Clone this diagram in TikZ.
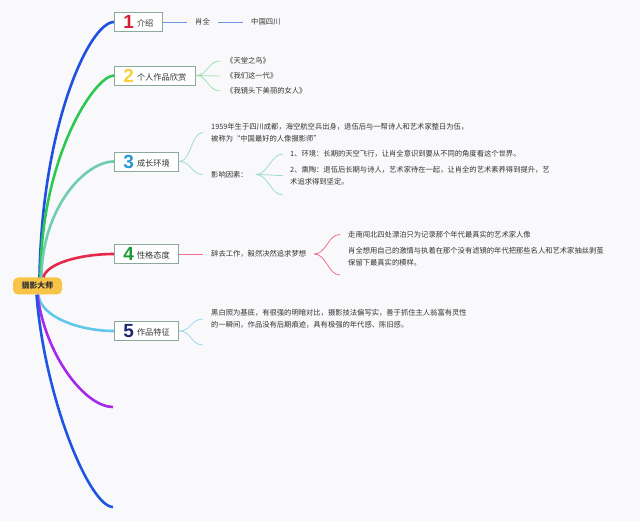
\documentclass[tikz,border=0pt]{standalone}
\usepackage{fontspec}
\setmainfont{Noto Sans CJK SC}
\newfontfamily\numfont{Liberation Sans}
\definecolor{bgc}{RGB}{249,249,251}
\definecolor{textc}{RGB}{51,51,51}
\definecolor{boxc}{RGB}{138,170,159}
\definecolor{rootc}{RGB}{248,196,72}
\definecolor{lineA}{RGB}{30,80,225}
\definecolor{lineB}{RGB}{45,200,80}
\definecolor{lineC}{RGB}{110,205,175}
\definecolor{lineD}{RGB}{230,40,75}
\definecolor{lineE}{RGB}{95,200,235}
\definecolor{lineF}{RGB}{165,40,235}
\definecolor{lineG}{RGB}{30,85,225}
\definecolor{subA}{RGB}{110,150,230}
\definecolor{subB}{RGB}{160,225,175}
\definecolor{subC}{RGB}{160,220,205}
\definecolor{subD}{RGB}{240,110,145}
\definecolor{subE}{RGB}{160,215,240}
\definecolor{numA}{RGB}{215,30,55}
\definecolor{numB}{RGB}{245,210,60}
\definecolor{numC}{RGB}{40,150,215}
\definecolor{numD}{RGB}{30,155,55}
\definecolor{numE}{RGB}{30,40,110}
\newcommand\topicnum[2]{{\numfont\bfseries\fontsize{19}{19}\selectfont\color{#1}#2}\hspace{3pt}}
\newcommand\topictxt[1]{\raisebox{2pt}{#1}}
\tikzset{
  rootbox/.style={fill=rootc, rounded corners=5pt, minimum width=49pt, minimum height=17pt, inner sep=0pt, text=textc, font=\bfseries\fontsize{7.8}{8}\selectfont},
  topicbox/.style={draw=boxc, line width=0.9pt, fill=white, inner xsep=9pt, inner ysep=2pt, minimum height=19pt, anchor=west, text=textc, font=\fontsize{8.2}{9}\selectfont},
  leaf/.style={anchor=west, align=left, inner xsep=8pt, inner ysep=1pt, text=textc, font=\fontsize{7.3}{11.5}\selectfont},
  mainline/.style={line width=2.6pt},
  subline/.style={line width=0.8pt}
}
\begin{document}
\begin{tikzpicture}[x=1pt,y=-1pt]
\fill[bgc] (0,0) rectangle (640,521);
\useasboundingbox (0,0) rectangle (640,521);

% root and topics
\node[rootbox] (root) at (37.5,286) {摄影大师};
\node[topicbox] (b1) at (114,22) {\topicnum{numA}{1}\topictxt{介绍}};
\node[topicbox] (b2) at (114,75.5) {\topicnum{numB}{2}\topictxt{个人作品欣赏}};
\node[topicbox] (b3) at (114,161.5) {\topicnum{numC}{3}\topictxt{成长环境}};
\node[topicbox] (b4) at (114,254) {\topicnum{numD}{4}\topictxt{性格态度}};
\node[topicbox] (b5) at (114,331) {\topicnum{numE}{5}\topictxt{作品特征}};
\coordinate (e6) at (113,407);
\coordinate (e7) at (113,507);

% main curves
\draw[mainline, lineA] ([xshift=2pt]root.north) .. controls (42,123) and (90,22) .. (b1.west);
\draw[mainline, lineB] ([xshift=3pt]root.north) .. controls (41,156) and (95,75.5) .. (b2.west);
\draw[mainline, lineC] ([xshift=4pt]root.north) .. controls (42,208) and (85,161.5) .. (b3.west);
\draw[mainline, lineD] ([xshift=6pt]root.north) .. controls (46,264) and (79,254) .. (b4.west);
\draw[mainline, lineE] ([xshift=1pt]root.south) .. controls (40,317) and (80,331) .. (b5.west);
\draw[mainline, lineF] (root.south) .. controls (45,355) and (85,407) .. (e6);
\draw[mainline, lineG] ([xshift=-1pt]root.south) .. controls (45,400) and (90,507) .. (e7);

% branch 1
\node[leaf] (n11) at (187,22) {肖全};
\node[leaf] (n12) at (243,22) {中国四川};
\draw[subline, subA] (b1.east) -- (n11.west);
\draw[subline, subA] (n11.east) -- (n12.west);

% branch 2
\node[leaf, inner xsep=6pt] (n21) at (220,61) {《天堂之鸟》};
\node[leaf, inner xsep=6pt] (n22) at (220,76) {《我们这一代》};
\node[leaf, inner xsep=6pt] (n23) at (220,91) {《我镜头下美丽的女人》};
\foreach \n in {n21,n22,n23}
  \draw[subline, subB] (b2.east) .. controls +(12,0) and +(-12,0) .. (\n.west);

% branch 3
\node[leaf] (n31) at (203,132.5) {1959年生于四川成都，海空航空兵出身，退伍后与一帮诗人和艺术家整日为伍，\\被称为“中国最好的人像摄影师”};
\node[leaf] (n32) at (203,174.5) {影响因素：};
\draw[subline, subC] (b3.east) .. controls +(12,0) and +(-12,0) .. (n31.west);
\draw[subline, subC] (b3.east) .. controls +(12,0) and +(-12,0) .. (n32.west);
\node[leaf, inner xsep=7pt] (n33) at (283,154) {1、环境：长期的天空飞行，让肖全意识到要从不同的角度看这个世界。};
\node[leaf, inner xsep=7pt] (n34) at (283,175.5) {2、熏陶：退伍后长期与诗人，艺术家待在一起，让肖全的艺术素养得到提升，艺\\术追求得到坚定。};
\coordinate (e35) at (283,195);
\draw[subline, subC] (n32.east) .. controls +(12,0) and +(-12,0) .. (n33.west);
\draw[subline, subC] (n32.east) .. controls +(12,0) and +(-12,0) .. (n34.west);
\draw[subline, subC] (n32.east) .. controls +(12,0) and +(-12,0) .. (e35);

% branch 4
\node[leaf] (n41) at (203,254) {辞去工作，毅然决然追求梦想};
\draw[subline, subD] (b4.east) -- (n41.west);
\node[leaf] (n42) at (340,234.5) {走南闯北四处漂泊只为记录那个年代最真实的艺术家人像};
\node[leaf] (n43) at (340,256.5) {肖全想用自己的激情与执着在那个没有滤镜的年代把那些名人和艺术家抽丝剥茧\\保留下最真实的模样。};
\coordinate (e44) at (340,275);
\draw[subline, subD] (n41.east) .. controls +(12,0) and +(-12,0) .. (n42.west);
\draw[subline, subD] (n41.east) .. controls +(12,0) and +(-12,0) .. (e44);

% branch 5
\node[leaf] (n51) at (203,319) {黑白照为基底，有很强的明暗对比，摄影技法偏写实，善于抓住主人翁富有灵性\\的一瞬间，作品没有后期痕迹，具有极强的年代感、陈旧感。};
\coordinate (e52) at (203,345);
\draw[subline, subE] (b5.east) .. controls +(12,0) and +(-12,0) .. (n51.west);
\draw[subline, subE] (b5.east) .. controls +(12,0) and +(-12,0) .. (e52);
\end{tikzpicture}
\end{document}
